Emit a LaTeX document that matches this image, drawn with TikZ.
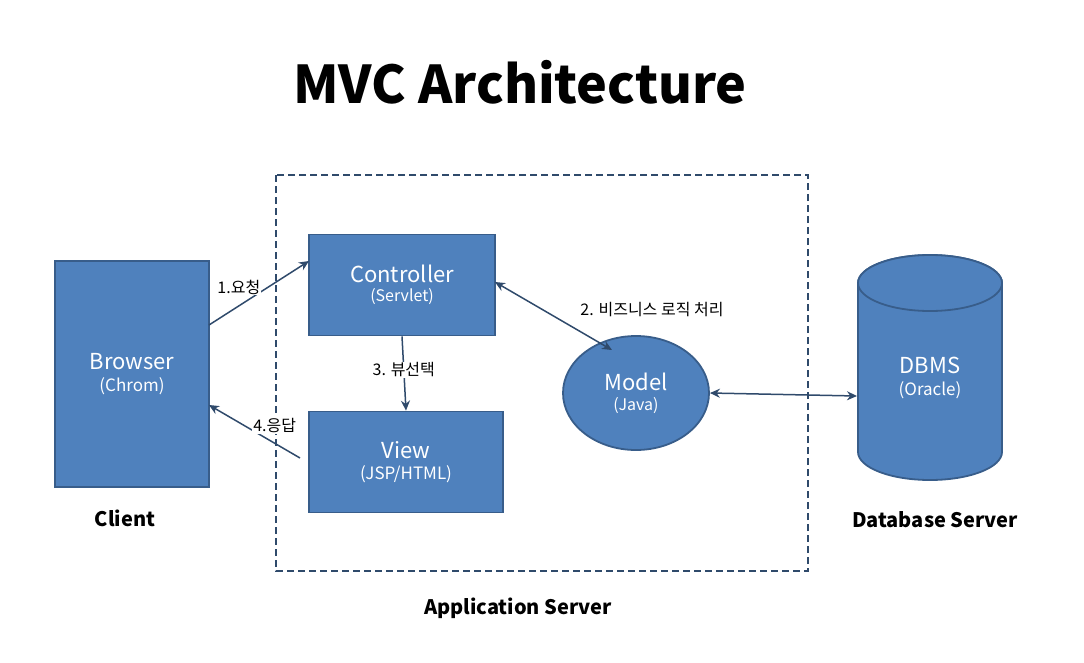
\documentclass[tikz,border=0pt]{standalone}
\usepackage{fontspec}
\setmainfont{Noto Sans CJK KR}
\usetikzlibrary{shapes.geometric,arrows.meta}
\definecolor{fillb}{HTML}{4F81BD}
\definecolor{edgeb}{HTML}{385D8A}
\definecolor{arr}{HTML}{2F4A6B}
\begin{document}
\begin{tikzpicture}[x=1pt,y=-1pt,
 box/.style={draw=edgeb,line width=1.8pt,fill=fillb,text=white,align=center,inner sep=0pt},
 con/.style={draw=arr,line width=1.5pt,-{Stealth[length=10pt,width=9pt]}},
 lab/.style={font=\fontsize{16}{18}\selectfont,fill=white,inner sep=1pt},
 captxt/.style={font=\bfseries\fontsize{20}{24}\selectfont}]
\useasboundingbox (0,0) rectangle (1084,662);
\node (title) at (520,82) {\bfseries\fontsize{52}{60}\selectfont MVC Architecture};
\draw[draw=arr,line width=1.8pt,dash pattern=on 7pt off 4pt] (276,175) rectangle (808,571);
\node[box,minimum width=154,minimum height=226] (browser) at (132,374) {{\fontsize{22}{28}\selectfont Browser}\\[6pt]{\fontsize{17}{20}\selectfont (Chrom)}};
\node[box,minimum width=186,minimum height=101] (ctrl) at (402,285) {{\fontsize{22}{28}\selectfont Controller}\\[5pt]{\fontsize{16}{19}\selectfont (Servlet)}};
\node[box,minimum width=194,minimum height=101] (view) at (406,462) {{\fontsize{22}{28}\selectfont View}\\[6pt]{\fontsize{17}{20}\selectfont (JSP/HTML)}};
\node[box,ellipse,minimum width=146,minimum height=114] (model) at (636,393) {{\fontsize{22}{28}\selectfont Model}\\[6pt]{\fontsize{16}{19}\selectfont (Java)}};
\draw[box] (858,283) arc[x radius=72,y radius=28,start angle=180,end angle=360] -- (1002,452) arc[x radius=72,y radius=28,start angle=0,end angle=180] -- cycle;
\draw[box] (930,283) ellipse[x radius=72,y radius=28];
\node[text=white,align=center] (db) at (930,378) {{\fontsize{22}{28}\selectfont DBMS}\\[6pt]{\fontsize{17}{20}\selectfont (Oracle)}};
\coordinate (dbw) at (857,396);
\node[captxt] (client) at (125,518) {Client};
\node[captxt] (dbs) at (935,520) {Database Server};
\node[captxt] (apps) at (518,608) {Application Server};
\coordinate (b1) at (209,325);
\coordinate (c1) at (309,261);
\coordinate (v1) at (300,458);
\coordinate (b2) at (209,405);
\coordinate (c2) at (495,282);
\coordinate (m2) at (612,350);
\draw[con] (b1) -- node[lab,pos=0.5,above left=-3pt] {1.요청} (c1);
\draw[con] (ctrl.south) -- node[lab,pos=0.45] {3. 뷰선택} (view.north);
\draw[con] (v1) -- node[lab,pos=0.5,above right=-3pt] {4.응답} (b2);
\draw[con,{Stealth[length=10pt,width=9pt]}-{Stealth[length=10pt,width=9pt]}] (c2) -- (m2);
\node[lab] (l2) at (652,310) {2. 비즈니스 로직 처리};
\draw[con,{Stealth[length=10pt,width=9pt]}-{Stealth[length=10pt,width=9pt]}] (model.east) -- (dbw);
\end{tikzpicture}
\end{document}
